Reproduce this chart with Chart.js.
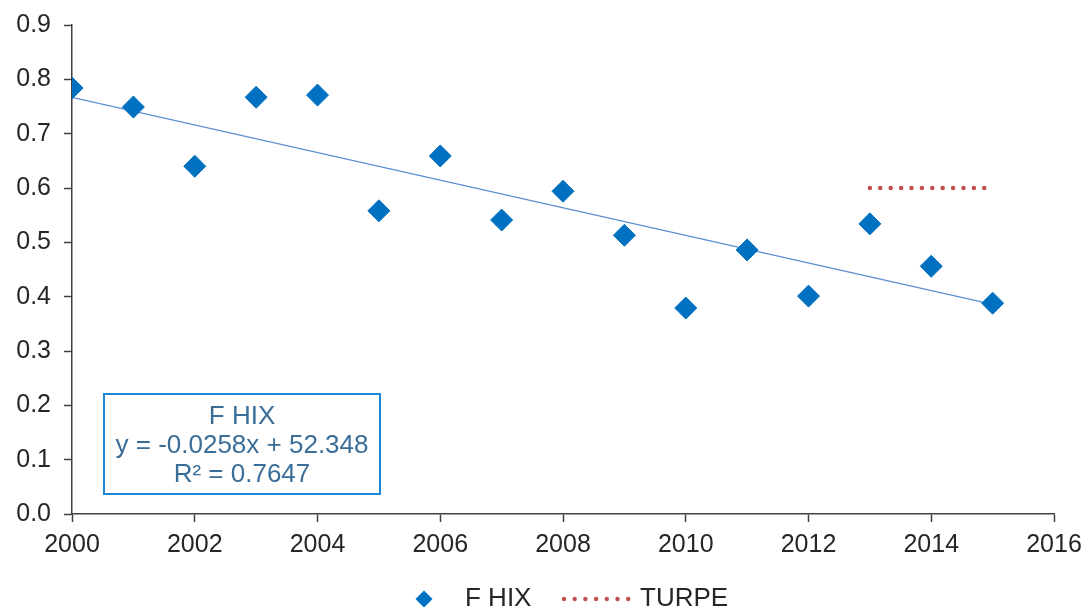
<!DOCTYPE html>
<html>
<head>
<meta charset="utf-8">
<script src="https://cdn.jsdelivr.net/npm/chart.js@4"></script>
<style>
  html, body { margin: 0; padding: 0; background: #fff; }
  #wrap { width: 1088px; height: 609px; position: relative; }
</style>
</head>
<body>
<div id="wrap"><canvas id="chart"></canvas></div>
<script>
// values
const years = [2000, 2001, 2002, 2003, 2004, 2005, 2006, 2007, 2008, 2009, 2010, 2011, 2012, 2013, 2014, 2015];
const fhix = [0.784, 0.749, 0.640, 0.767, 0.771, 0.558, 0.659, 0.541, 0.594, 0.513, 0.379, 0.486, 0.401, 0.534, 0.456, 0.388];
const trendYears = [2000, 2015];
const trendValues = [0.767, 0.386];
const turpeYears = [2013, 2015];
const turpeValues = [0.6, 0.6];
const yTicks = [0, 0.1, 0.2, 0.3, 0.4, 0.5, 0.6, 0.7, 0.8, 0.9];
const xTicks = [2000, 2002, 2004, 2006, 2008, 2010, 2012, 2014, 2016];
const equationLines = ['F HIX', 'y = -0.0258x + 52.348', 'R\u00b2 = 0.7647'];

const BLUE = '#0070c0';
const RED = '#c0504d';
const TEXT = '#262626';
const AXIS = '#404040';
const FONT = '"Liberation Sans", Arial, sans-serif';

const toPoints = (xs, ys) => xs.map((x, i) => ({ x: x, y: ys[i] }));

// equation box + bottom legend
const extras = {
    id: 'extras',
    afterDraw(chart) {
        const ctx = chart.ctx;
        ctx.save();

        // trendline label box
        ctx.strokeStyle = '#1a86d6';
        ctx.lineWidth = 2;
        ctx.strokeRect(104, 394, 276, 100);
        ctx.fillStyle = '#3a6d98';
        ctx.font = '26px ' + FONT;
        ctx.textAlign = 'center';
        ctx.textBaseline = 'middle';
        equationLines.forEach((t, i) => ctx.fillText(t, 242, 417 + i * 29));

        // legend
        const ly = 599;
        ctx.fillStyle = BLUE;
        ctx.beginPath();
        ctx.moveTo(424, ly - 8.5);
        ctx.lineTo(432.5, ly);
        ctx.lineTo(424, ly + 8.5);
        ctx.lineTo(415.5, ly);
        ctx.closePath();
        ctx.fill();

        ctx.fillStyle = RED;
        for (let i = 0; i < 7; i++) {
            ctx.beginPath();
            ctx.arc(564 + i * 10.7, ly, 2.2, 0, Math.PI * 2);
            ctx.fill();
        }

        ctx.fillStyle = TEXT;
        ctx.font = '26px ' + FONT;
        ctx.textAlign = 'left';
        ctx.fillText('F HIX', 465, ly);
        ctx.fillText('TURPE', 640, ly);
        ctx.restore();
    }
};

new Chart(document.getElementById('chart'), {
    type: 'scatter',
    data: {
        datasets: [
            {
                label: 'F HIX',
                data: toPoints(years, fhix),
                pointStyle: 'rectRot',
                pointRadius: 11,
                pointBackgroundColor: BLUE,
                pointBorderColor: BLUE,
                pointBorderWidth: 1,
                showLine: false,
                order: 1
            },
            {
                label: 'trend',
                data: toPoints(trendYears, trendValues),
                showLine: true,
                borderColor: '#5a8fd0',
                borderWidth: 1.3,
                pointRadius: 0,
                order: 2
            },
            {
                label: 'TURPE',
                data: toPoints(turpeYears, turpeValues),
                showLine: true,
                borderColor: RED,
                borderWidth: 4.5,
                borderDash: [0, 10.4],
                borderCapStyle: 'round',
                pointRadius: 0,
                order: 0
            }
        ]
    },
    options: {
        responsive: true,
        maintainAspectRatio: false,
        animation: false,
        layout: { padding: { top: 25, right: 34, left: 0, bottom: 0 } },
        plugins: {
            legend: { display: false },
            tooltip: { enabled: false }
        },
        scales: {
            x: {
                type: 'linear',
                min: 2000,
                max: 2016,
                afterBuildTicks: (scale) => { scale.ticks = xTicks.map(v => ({ value: v })); },
                afterFit: (scale) => {
                    scale.height = 95;
                    scale.paddingLeft = 0;
                    scale.paddingRight = 0;
                },
                border: { display: true, color: AXIS, width: 1.5 },
                grid: { drawOnChartArea: false, drawTicks: true, tickLength: 8, tickColor: AXIS, tickWidth: 1.5 },
                ticks: {
                    color: TEXT,
                    padding: 8,
                    font: { family: FONT, size: 25 },
                    callback: (v) => String(v)
                }
            },
            y: {
                min: 0,
                max: 0.9,
                afterBuildTicks: (scale) => { scale.ticks = yTicks.map(v => ({ value: v })); },
                afterFit: (scale) => {
                    scale.width = 72;
                    scale.paddingTop = 0;
                    scale.paddingBottom = 0;
                },
                border: { display: true, color: AXIS, width: 1.5 },
                grid: { drawOnChartArea: false, drawTicks: true, tickLength: 8, tickColor: AXIS, tickWidth: 1.5 },
                ticks: {
                    color: TEXT,
                    padding: 13,
                    font: { family: FONT, size: 25 },
                    callback: (v) => v.toFixed(1)
                }
            }
        }
    },
    plugins: [extras]
});
</script>
</body>
</html>
